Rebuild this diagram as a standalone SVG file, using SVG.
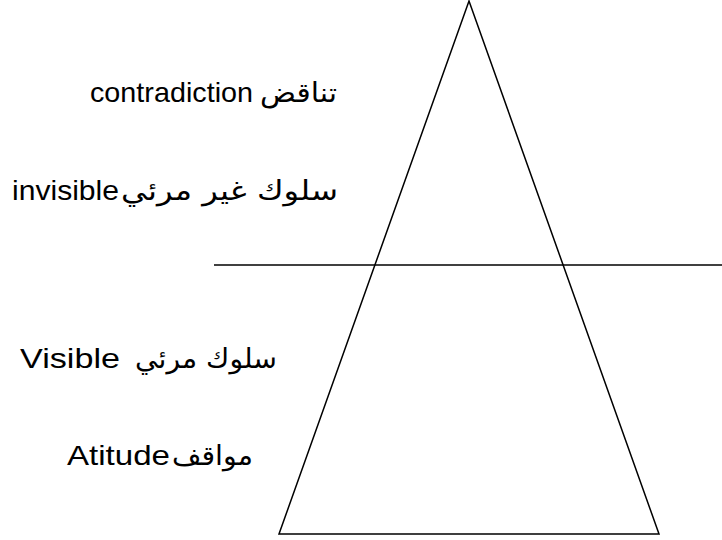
<svg xmlns="http://www.w3.org/2000/svg" width="722" height="540" viewBox="0 0 722 540">
<style>
.t{font-family:"Liberation Sans",Arial,"DejaVu Sans",sans-serif;font-size:28px;fill:#000}
.a{font-family:"DejaVu Sans","Noto Sans",sans-serif;font-size:27px;fill:#000}
.s{stroke:#000;stroke-width:1.5;fill:none}
</style>
<rect width="722" height="540" fill="#fff"/>
<g id="triangle"><polygon class="s" points="469,1 279,534 659,534"/></g>
<g id="divider"><line class="s" x1="214" y1="265" x2="722" y2="265"/></g>
<g id="label-contradiction">
<text class="t" x="90" y="102" textLength="163" lengthAdjust="spacingAndGlyphs">contradiction</text>
<text class="a" x="260" y="102" textLength="77" lengthAdjust="spacingAndGlyphs">تناقض</text>
</g>
<g id="label-invisible">
<text class="t" x="12" y="200" textLength="107" lengthAdjust="spacingAndGlyphs">invisible</text>
<text class="a" x="121" y="200" textLength="217" lengthAdjust="spacingAndGlyphs">سلوك غير مرئي</text>
</g>
<g id="label-visible">
<text class="t" x="20" y="368" textLength="100" lengthAdjust="spacingAndGlyphs">Visible</text>
<text class="a" x="135" y="368" textLength="142" lengthAdjust="spacingAndGlyphs">سلوك مرئي</text>
</g>
<g id="label-attitude">
<text class="t" x="67" y="465" textLength="103" lengthAdjust="spacingAndGlyphs">Atitude</text>
<text class="a" x="172" y="465" textLength="81" lengthAdjust="spacingAndGlyphs">مواقف</text>
</g>
</svg>
